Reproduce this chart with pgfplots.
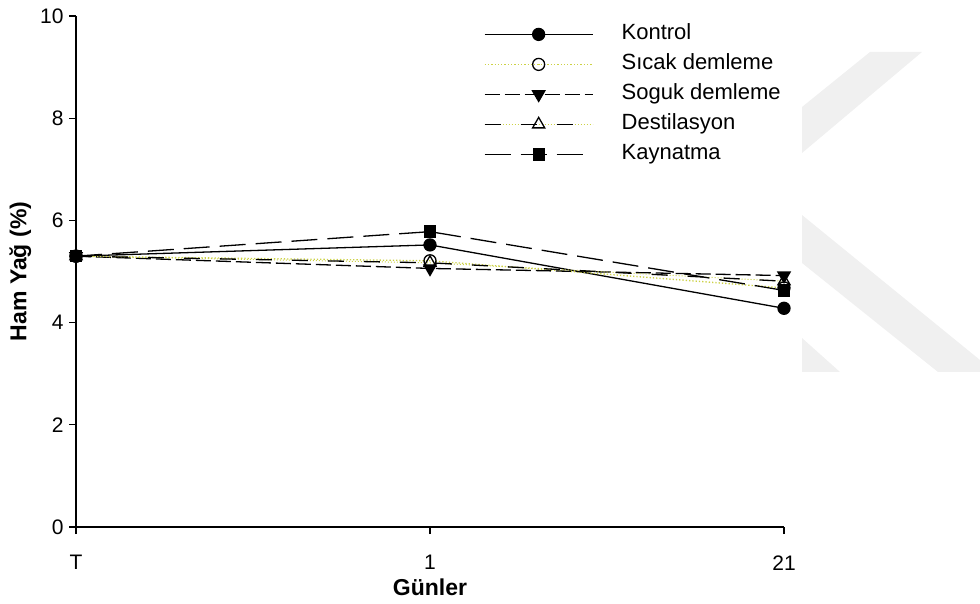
\documentclass[border=0pt]{standalone}
\usepackage{fontspec}
\setmainfont{Liberation Sans}
\usepackage{pgfplots}
\pgfplotsset{compat=1.18}
\definecolor{dotyel}{RGB}{205,210,70}
\definecolor{wm}{RGB}{240,240,240}

% legend sample: a 108pt line with the marker in the middle, plus spacing before the text
\pgfplotsset{
  longlegend/.style={legend image code/.code={%
    \path[draw=none,fill=none] (0pt,0pt) -- (135pt,0pt);
    \draw[mark repeat=2,mark phase=2,##1] plot coordinates {(0pt,0pt) (54pt,0pt) (108pt,0pt)};}},
  dashdotlegend/.style={legend image code/.code={%
    \path[draw=none,fill=none] (0pt,0pt) -- (135pt,0pt);
    \draw[dotyel,dotted,line width=1pt] (0pt,0pt) -- (108pt,0pt);
    \draw[mark repeat=2,mark phase=2,##1] plot coordinates {(0pt,0pt) (54pt,0pt) (108pt,0pt)};}},
}

\begin{document}
\begin{tikzpicture}
\useasboundingbox (0pt,0pt) rectangle (980pt,603pt);
% faint "K" mark at the right edge
\begin{scope}[x=1pt,y=1pt]
\fill[wm] (802,496) -- (870,551) -- (922,551) -- (802,450) -- cycle;
\fill[wm] (802,388) -- (980,243) -- (980,231) -- (938,231) -- (802,340) -- cycle;
\fill[wm] (802,265) -- (840,231) -- (802,231) -- cycle;
\end{scope}

\begin{axis}[
  at={(76pt,76pt)}, anchor=south west,
  scale only axis, width=708pt, height=511pt,
  xmin=0, xmax=2, ymin=0, ymax=10,
  axis lines*=left,
  axis line style={line width=1.3pt},
  xtick={0,1,2}, xticklabels={T,1,21},
  ytick={0,2,...,10},
  tick align=outside, major tick length=7pt,
  tick style={line width=1.3pt, black},
  every tick label/.append style={font=\fontsize{21}{25}\selectfont},
  /pgf/number format/assume math mode=true,
  xticklabel style={yshift=-18pt},
  yticklabel style={xshift=-2pt},
  xlabel={\textbf{Günler}},
  ylabel={\textbf{Ham Yağ (\%)}},
  label style={font=\fontsize{23}{27}\selectfont},
  xlabel style={yshift=-2pt},
  ylabel style={yshift=2pt},
  legend cell align=left,
  legend style={
    at={(0.576,0.982)}, anchor=north west,
    draw=none, fill=none, inner sep=0pt,
    font=\fontsize{22}{26}\selectfont,
    row sep=12pt,
    nodes={inner ysep=0pt, text height=14pt, text depth=4pt},
  },
]
% Kontrol
\addplot[black, line width=1.3pt, mark=*, mark size=6pt, longlegend]
  coordinates {(0,5.30) (1,5.52) (2,4.28)};
\addlegendentry{Kontrol}
% Sıcak demleme
\addplot[dotyel, dotted, line width=1.3pt, mark=o, mark size=6pt,
  mark options={solid, black, fill=white, line width=1.3pt}, longlegend]
  coordinates {(0,5.30) (1,5.21) (2,4.68)};
\addlegendentry{Sıcak demleme}
% Soguk demleme
\addplot[black, line width=1.3pt, dash pattern=on 15pt off 5pt,
  mark=triangle*, mark size=7pt, mark options={solid, rotate=180}, longlegend]
  coordinates {(0,5.30) (1,5.06) (2,4.92)};
\addlegendentry{Soguk demleme}
% Destilasyon: black dashes with yellow dots in the gaps
\addplot[dotyel, dotted, line width=1pt, forget plot]
  coordinates {(0,5.30) (1,5.17) (2,4.81)};
\addplot[black, line width=1.3pt, dash pattern=on 16pt off 20pt,
  mark=triangle, mark size=7pt, mark options={solid, fill=white}, dashdotlegend]
  coordinates {(0,5.30) (1,5.17) (2,4.81)};
\addlegendentry{Destilasyon}
% Kaynatma
\addplot[black, line width=1.3pt, dash pattern=on 26pt off 10pt,
  mark=square*, mark size=5.5pt, mark options={solid}, longlegend]
  coordinates {(0,5.30) (1,5.78) (2,4.63)};
\addlegendentry{Kaynatma}
\end{axis}
\end{tikzpicture}
\end{document}
